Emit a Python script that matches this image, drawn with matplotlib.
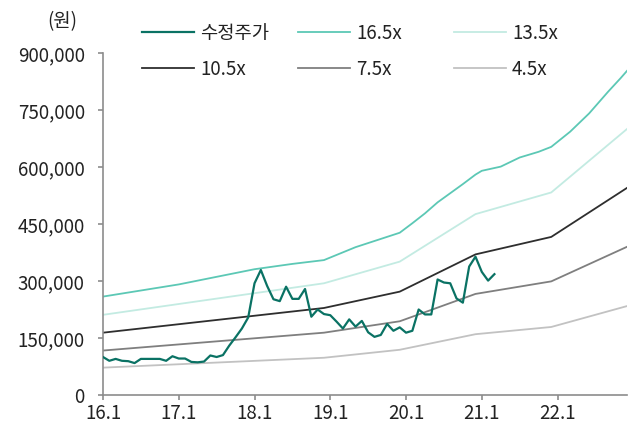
import numpy as np
import matplotlib.pyplot as plt
from matplotlib.ticker import FuncFormatter

plt.rcParams['font.family'] = ['Noto Sans CJK KR', 'DejaVu Sans']

# month index: 0 = 2016.1
price_m = np.arange(63)
price = [100, 90, 95, 90, 89, 84, 95, 95, 95, 95, 90, 102, 96, 96, 87, 86, 88, 104,
         100, 105, 130, 152, 175, 204, 294, 329, 287, 252, 247, 285, 253, 253, 279,
         206, 225, 213, 210, 193, 175, 199, 180, 195, 165, 153, 158, 187, 169, 178,
         164, 169, 225, 212, 212, 304, 296, 294, 254, 243, 338, 364, 324, 301, 318]

# 16.5x band (read at selected months)
top_m = [0, 12, 24, 30, 35, 40, 47, 49, 51, 53, 55, 57, 59, 60, 63, 66, 69, 71, 74, 77, 80, 81, 82, 83]
band_165 = [259, 291, 331, 345, 355, 389, 427, 452, 478, 507, 531, 555, 580, 590, 601,
            625, 640, 653, 693, 741, 798, 816, 834, 853]

# other bands, piecewise at year-end nodes
node_m = [0, 35, 47, 59, 71, 83]
band_135 = [211, 294, 351, 476, 533, 700]
band_105 = [164, 229, 272, 370, 416, 545]
band_75 = [117, 164, 194, 266, 299, 390]
band_45 = [72, 98, 119, 160, 179, 234]

xtick_m = [0, 12, 24, 36, 48, 60, 72]
xtick_labels = ['16.1', '17.1', '18.1', '19.1', '20.1', '21.1', '22.1']

fig = plt.figure(figsize=(6.35, 4.21), dpi=100)
ax = fig.add_axes([103 / 635, 26 / 421, 524 / 635, 342 / 421])

k = 1000
l_p, = ax.plot(price_m, np.array(price) * k, color='#0a7264', lw=1.6, label='수정주가', zorder=5)
l1, = ax.plot(top_m, np.array(band_165) * k, color='#5cc8b5', lw=1.3, label='16.5x')
l2, = ax.plot(node_m, np.array(band_135) * k, color='#c3ebe2', lw=1.3, label='13.5x')
l3, = ax.plot(node_m, np.array(band_105) * k, color='#2e2e2e', lw=1.3, label='10.5x')
l4, = ax.plot(node_m, np.array(band_75) * k, color='#7f7f7f', lw=1.3, label='7.5x')
l5, = ax.plot(node_m, np.array(band_45) * k, color='#c2c2c2', lw=1.3, label='4.5x')

ax.set_xlim(0, 83)
ax.set_ylim(0, 900000)
ax.set_yticks(np.arange(0, 900001, 150000))
ax.yaxis.set_major_formatter(FuncFormatter(lambda v, p: f'{int(v):,}'))
ax.set_xticks(xtick_m)
ax.set_xticklabels(xtick_labels)

for s in ['top', 'right']:
    ax.spines[s].set_visible(False)
for s in ['left', 'bottom']:
    ax.spines[s].set_color('#8c8c8c')
    ax.spines[s].set_linewidth(1.2)
ax.tick_params(colors='#8c8c8c', width=1.2, length=3.6, labelsize=13.5,
               labelcolor='#222222')
ax.tick_params(axis='y', pad=9.5)
ax.tick_params(axis='x', pad=2)

fig.text(62 / 635, 1 - 22 / 421, '(원)', fontsize=13.5, color='#222222', ha='center', va='center')

cols = [(142, [l_p, l3]), (298, [l1, l4]), (454, [l2, l5])]
for x0, hs in cols:
    lg = fig.legend(handles=hs, labels=[h.get_label() for h in hs], loc='upper left',
                    bbox_to_anchor=(x0 / 635, 1 - 23 / 421), frameon=False,
                    fontsize=13.5, handlelength=2.75, handletextpad=0.35,
                    borderpad=0, borderaxespad=0, labelspacing=0.78)
    for t in lg.get_texts():
        t.set_color('#222222')

fig.savefig('out.png', dpi=100)
